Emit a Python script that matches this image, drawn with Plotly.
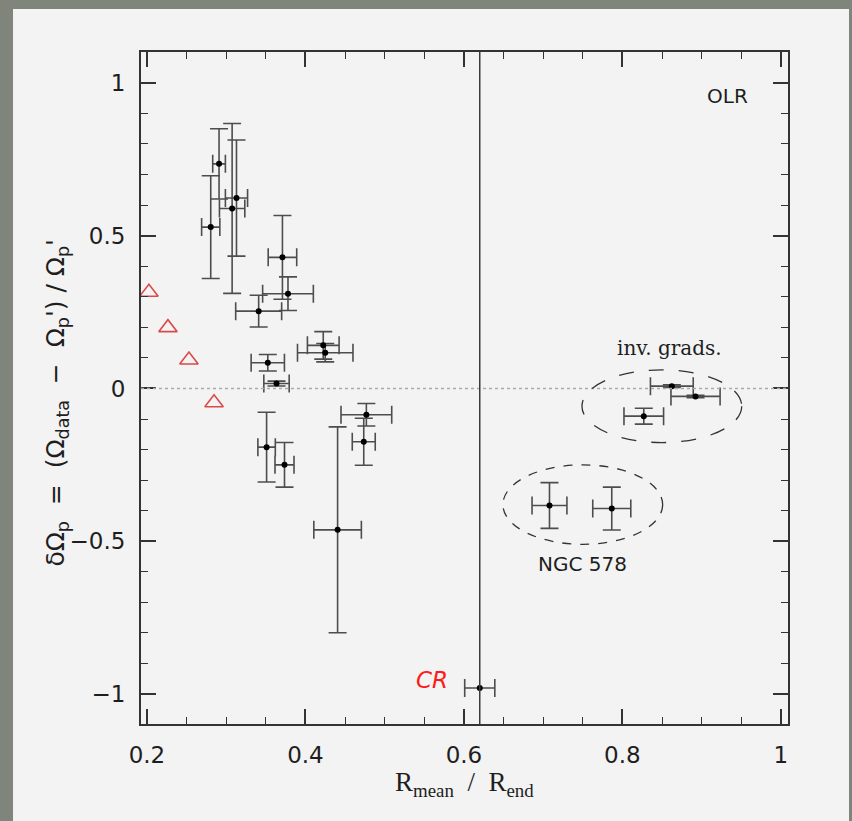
import plotly.graph_objects as go

# Pattern-speed deviation vs. normalised radius, one entry per measurement
r_mean = [0.291, 0.2805, 0.313, 0.3075, 0.371, 0.378, 0.341, 0.4225, 0.425,
          0.3525, 0.3635, 0.351, 0.3736, 0.4769, 0.4736, 0.4406,
          0.8624, 0.8923, 0.827, 0.708, 0.7866]
d_omega = [0.735, 0.528, 0.623, 0.589, 0.429, 0.31, 0.253, 0.141, 0.117,
           0.084, 0.016, -0.192, -0.25, -0.086, -0.1745, -0.4626,
           0.0076, -0.026, -0.0906, -0.383, -0.393]
r_err = [0.008, 0.0115, 0.014, 0.016, 0.018, 0.032, 0.029, 0.020, 0.035,
         0.021, 0.016, 0.011, 0.012, 0.032, 0.0145, 0.030,
         0.027, 0.031, 0.025, 0.022, 0.024]
d_err = [0.115, 0.168, 0.19, 0.278, 0.137, 0.055, 0.052, 0.045, 0.03,
         0.027, 0.008, 0.114, 0.073, 0.037, 0.077, 0.337,
         0.004, 0.004, 0.026, 0.075, 0.07]

# Corotation point
cr_r = [0.62]
cr_d = [-0.98]
cr_rerr = [0.019]

# Model curve markers (open triangles)
tri_r = [0.2025, 0.2265, 0.253, 0.2847]
tri_d = [0.315, 0.199, 0.093, -0.047]

# Corotation radius marker line
cr_line_x = 0.62

# Grouping ellipses: centre x, centre y, half-width, half-height
grp_inv = (0.8498, -0.058, 0.1008, 0.119)
grp_ngc = (0.75, -0.38, 0.1008, 0.13)

x_range = [0.1925, 1.009]
y_range = [-1.098, 1.101]

ink = "#333333"
bar_col = "#4d4d4d"
panel = "#f3f3f3"
text_col = "#1e1e1e"

fig = go.Figure()

fig.add_trace(go.Scatter(
    x=r_mean, y=d_omega, mode="markers",
    marker=dict(color="black", size=6),
    error_x=dict(type="data", array=r_err, color=bar_col, thickness=1.6, width=9),
    error_y=dict(type="data", array=d_err, color=bar_col, thickness=1.6, width=9),
    showlegend=False, hoverinfo="skip"))

fig.add_trace(go.Scatter(
    x=cr_r, y=cr_d, mode="markers",
    marker=dict(color="black", size=6),
    error_x=dict(type="data", array=cr_rerr, color=bar_col, thickness=1.6, width=9),
    showlegend=False, hoverinfo="skip"))

fig.add_trace(go.Scatter(
    x=tri_r, y=tri_d, mode="markers",
    marker=dict(symbol="triangle-up-open", color="#d94a4a", size=16,
                line=dict(width=1.6, color="#d94a4a")),
    showlegend=False, hoverinfo="skip"))

shapes = [
    # light card behind the figure
    dict(type="rect", xref="paper", yref="paper",
         x0=-0.1978, x1=1.0943, y0=-0.1443, y1=1.064,
         fillcolor=panel, line=dict(width=0), layer="below"),
    # zero line
    dict(type="line", xref="x domain", yref="y", x0=0, x1=1, y0=0, y1=0,
         line=dict(color="#aaaaaa", width=1.5, dash="dot")),
    # corotation line
    dict(type="line", xref="x", yref="y domain", x0=cr_line_x, x1=cr_line_x,
         y0=0, y1=1, line=dict(color="#3a3a3a", width=1.5)),
]
for (cx, cy, rx, ry), dash in ((grp_inv, "longdash"), (grp_ngc, "dash")):
    shapes.append(dict(type="circle", xref="x", yref="y",
                       x0=cx - rx, x1=cx + rx, y0=cy - ry, y1=cy + ry,
                       line=dict(color=ink, width=1.3, dash=dash)))

nb = "\u00a0"
ytitle = (f"δΩ<sub>p</sub>{nb}{nb}={nb}{nb}(Ω<sub>data</sub>{nb}{nb}−{nb}{nb}"
          f"Ω<sub>p</sub>'){nb}/{nb}Ω<sub>p</sub>'")

annotations = [
    dict(text="OLR", x=0.933, y=0.956, xref="x", yref="y", showarrow=False,
         font=dict(family="DejaVu Sans", size=20, color=text_col)),
    dict(text="inv. grads.", x=0.86, y=0.133, xref="x", yref="y", showarrow=False,
         font=dict(family="DejaVu Serif", size=20, color=text_col)),
    dict(text="NGC 578", x=0.75, y=-0.576, xref="x", yref="y", showarrow=False,
         font=dict(family="DejaVu Sans", size=20, color=text_col)),
    dict(text="<i>CR</i>", x=0.56, y=-0.953, xref="x", yref="y", showarrow=False,
         font=dict(family="Comic Sans MS, DejaVu Sans", size=23, color="#ff1a1a")),
    dict(text=f"R<sub>mean</sub>{nb}{nb}/{nb}{nb}R<sub>end</sub>", x=0.5, y=-0.118,
         xref="paper", yref="paper", showarrow=False,
         font=dict(family="Liberation Serif", size=27, color=text_col)),
    dict(text=ytitle, x=-0.158, y=0.478, xref="paper", yref="paper",
         showarrow=False, textangle=-90,
         font=dict(family="DejaVu Sans", size=25, color=text_col)),
]

axis_common = dict(
    ticks="inside", ticklen=15, tickwidth=1.5, tickcolor=ink,
    showline=True, linewidth=2, linecolor=ink, mirror="allticks",
    showgrid=False, zeroline=False,
    tickfont=dict(family="DejaVu Sans", size=23, color=text_col),
    ticklabelstandoff=9,
)

fig.update_layout(
    width=852, height=821,
    margin=dict(l=141, r=64, t=52, b=97),
    paper_bgcolor="#7f857a", plot_bgcolor=panel,
    xaxis=dict(range=x_range, tickmode="linear", tick0=0.2, dtick=0.2,
               minor=dict(tick0=0.2, dtick=0.05, ticks="inside", ticklen=7,
                          tickwidth=1.3, tickcolor=ink, showgrid=False),
               **axis_common),
    yaxis=dict(range=y_range, tickmode="linear", tick0=0, dtick=0.5,
               minor=dict(tick0=0, dtick=0.1, ticks="inside", ticklen=7,
                          tickwidth=1.3, tickcolor=ink, showgrid=False),
               **axis_common),
    shapes=shapes,
    annotations=annotations,
)

fig.write_html("out.html")
